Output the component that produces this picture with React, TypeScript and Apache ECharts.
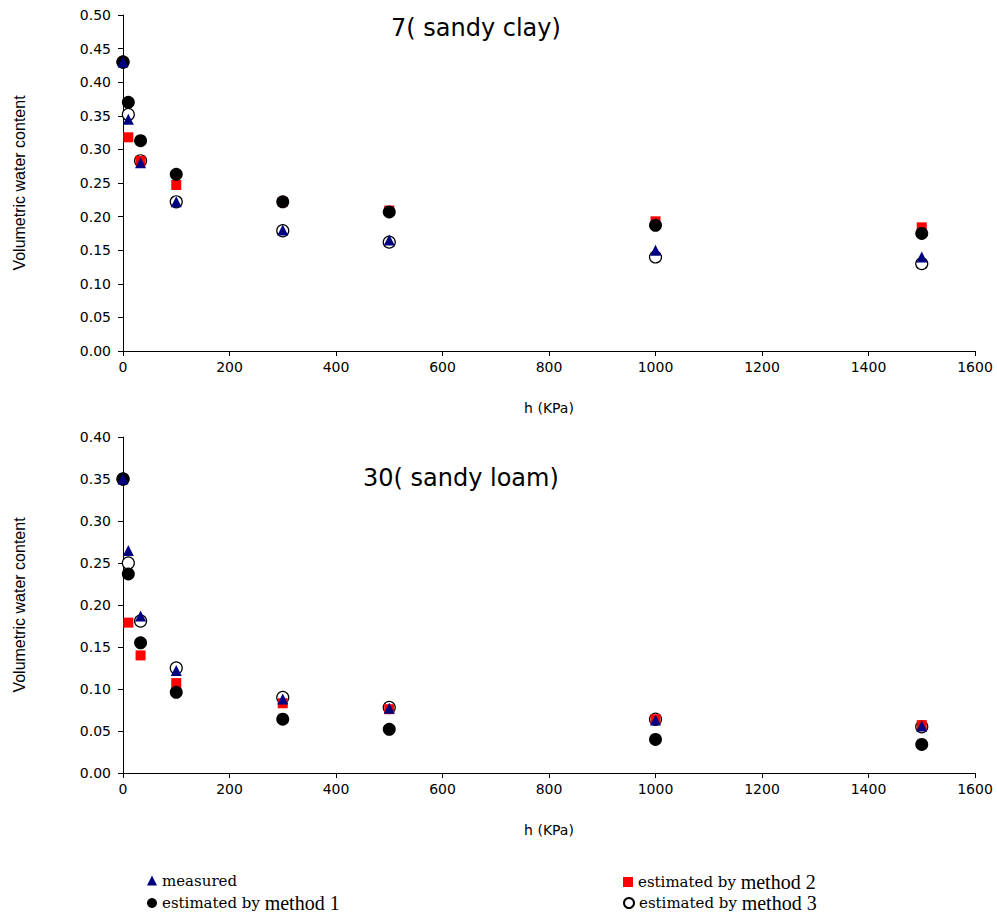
import React, { useEffect, useRef } from "react";
import * as echarts from "echarts";

const hValues = [0, 10, 33, 100, 300, 500, 1000, 1500];

// 7 (sandy clay)
const clayMeasured = [0.43, 0.345, 0.28, 0.222, 0.18, 0.165, 0.15, 0.14];
const clayMethod1 = [0.43, 0.37, 0.313, 0.263, 0.222, 0.207, 0.187, 0.175];
const clayMethod2 = [0.43, 0.318, 0.283, 0.247, 0.222, 0.209, 0.193, 0.184];
const clayMethod3 = [0.43, 0.352, 0.283, 0.222, 0.179, 0.162, 0.14, 0.13];

// 30 (sandy loam)
const loamMeasured = [0.35, 0.265, 0.187, 0.122, 0.088, 0.077, 0.063, 0.056];
const loamMethod1 = [0.35, 0.237, 0.155, 0.096, 0.064, 0.052, 0.04, 0.034];
const loamMethod2 = [0.35, 0.179, 0.14, 0.107, 0.083, 0.076, 0.064, 0.057];
const loamMethod3 = [0.35, 0.25, 0.181, 0.125, 0.09, 0.078, 0.064, 0.055];

const titles = ["7( sandy clay)", "30( sandy loam)"];
const seriesNames = [
  "measured",
  "estimated by method 1",
  "estimated by method 2",
  "estimated by method 3",
];

const zip = (ys: number[]) => hValues.map((h, i) => [h, ys[i]]);

const SANS = "DejaVu Sans";

function makeSeries(gridIdx: number, m: number[], m1: number[], m2: number[], m3: number[]) {
  return [
    {
      name: seriesNames[3],
      type: "scatter",
      xAxisIndex: gridIdx,
      yAxisIndex: gridIdx,
      symbol: "circle",
      symbolSize: 12,
      itemStyle: { color: "#ffffff", borderColor: "#000000", borderWidth: 1.2, opacity: 1 },
      data: zip(m3),
      z: 2,
    },
    {
      name: seriesNames[2],
      type: "scatter",
      xAxisIndex: gridIdx,
      yAxisIndex: gridIdx,
      symbol: "rect",
      symbolSize: 10,
      itemStyle: { color: "#ff0000", opacity: 1 },
      data: zip(m2),
      z: 3,
    },
    {
      name: seriesNames[1],
      type: "scatter",
      xAxisIndex: gridIdx,
      yAxisIndex: gridIdx,
      symbol: "circle",
      symbolSize: 13,
      itemStyle: { color: "#000000", opacity: 1 },
      data: zip(m1),
      z: 4,
    },
    {
      name: seriesNames[0],
      type: "scatter",
      xAxisIndex: gridIdx,
      yAxisIndex: gridIdx,
      symbol: "triangle",
      symbolSize: 11,
      itemStyle: { color: "#000080", opacity: 1 },
      data: zip(m),
      z: 5,
    },
  ];
}

function xAxis(gridIndex: number) {
  return {
    type: "value",
    gridIndex,
    min: 0,
    max: 1600,
    interval: 200,
    name: "h (KPa)",
    nameLocation: "middle",
    nameGap: 50,
    nameTextStyle: { fontFamily: SANS, fontSize: 14, color: "#000" },
    axisLine: { show: true, lineStyle: { color: "#000", width: 1 } },
    axisTick: { show: true, length: 5, lineStyle: { color: "#000" } },
    axisLabel: {
      fontFamily: SANS,
      fontSize: 14,
      color: "#000",
      margin: 9,
      formatter: (v: number) => String(v),
    },
    splitLine: { show: false },
  };
}

function yAxis(gridIndex: number, max: number) {
  return {
    type: "value",
    gridIndex,
    min: 0,
    max,
    interval: 0.05,
    name: "Volumetric water content",
    nameLocation: "middle",
    nameRotate: 90,
    nameGap: 96,
    nameTextStyle: { fontFamily: "Liberation Sans", fontSize: 16, color: "#000" },
    axisLine: { show: true, lineStyle: { color: "#000", width: 1 } },
    axisTick: { show: true, length: 5, lineStyle: { color: "#000" } },
    axisLabel: {
      fontFamily: SANS,
      fontSize: 14,
      color: "#000",
      margin: 12,
      formatter: (v: number) => v.toFixed(2),
    },
    splitLine: { show: false },
  };
}

const legendRich = {
  s: { fontFamily: "DejaVu Serif", fontSize: 15, color: "#000", lineHeight: 19 },
  m: { fontFamily: "Liberation Serif", fontSize: 20, color: "#000", lineHeight: 19 },
};

function legendItem(name: string, left: number, top: number) {
  return {
    data: [name],
    left,
    top,
    padding: 0,
    itemWidth: 10,
    itemHeight: 10,
    itemGap: 0,
    formatter: (n: string) =>
      n === "measured" ? "{s|measured}" : "{s|estimated by }{m|" + n.replace("estimated by ", "") + "}",
    textStyle: { rich: legendRich },
  };
}

export default function App() {
  const ref = useRef<HTMLDivElement>(null);
  useEffect(() => {
    document.body.style.margin = "0";
    if (!ref.current) return;
    const chart = echarts.init(ref.current, undefined, { renderer: "svg" });
    chart.setOption({
      animation: false,
      backgroundColor: "#ffffff",
      title: [
        {
          text: titles[0],
          left: 386,
          top: 11,
          textStyle: { fontFamily: SANS, fontSize: 24, fontWeight: "normal", color: "#000" },
        },
        {
          text: titles[1],
          left: 358,
          top: 461,
          textStyle: { fontFamily: SANS, fontSize: 24, fontWeight: "normal", color: "#000" },
        },
      ],
      legend: [
        legendItem(seriesNames[0], 147, 873),
        legendItem(seriesNames[1], 147, 893),
        legendItem(seriesNames[2], 623, 872),
        legendItem(seriesNames[3], 623, 893),
      ],
      grid: [
        { left: 123, right: 22, top: 15, height: 336 },
        { left: 123, right: 22, top: 437, height: 336 },
      ],
      xAxis: [xAxis(0), xAxis(1)],
      yAxis: [yAxis(0, 0.5), yAxis(1, 0.4)],
      series: [
        ...makeSeries(0, clayMeasured, clayMethod1, clayMethod2, clayMethod3),
        ...makeSeries(1, loamMeasured, loamMethod1, loamMethod2, loamMethod3),
      ],
    });
    return () => chart.dispose();
  }, []);
  return <div ref={ref} style={{ width: 997, height: 913 }} />;
}
